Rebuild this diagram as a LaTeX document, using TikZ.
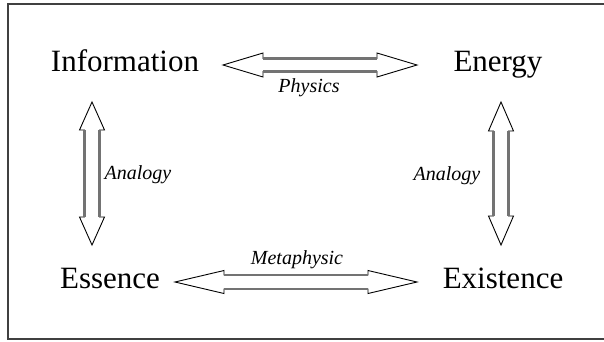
\documentclass[tikz,border=0pt]{standalone}
\usepackage{fontspec}
\setmainfont{Liberation Serif}
\usetikzlibrary{calc}

\tikzset{
  term/.style={inner sep=0pt, anchor=base, font=\fontsize{31}{36}\selectfont},
  relation/.style={inner sep=0pt, font=\fontsize{20}{24}\selectfont\itshape},
  headline/.style={draw=black, line width=0.9pt, line join=miter},
  shaftline/.style={draw=black!55, line width=2.4pt},
  frameline/.style={draw=black!75, line width=1.6pt},
}

% Horizontal hollow double arrow: #1 left tip, #2 right tip,
% #3 head length, #4 head half width, #5 shaft half width
\newcommand\twinarrowH[5]{%
  \draw[headline] (#1) -- ($(#1)+(#3,-#4)$) -- ($(#1)+(#3,-#5)$)
    -- ($(#2)+(-#3,-#5)$) -- ($(#2)+(-#3,-#4)$) -- (#2)
    -- ($(#2)+(-#3,#4)$) -- ($(#2)+(-#3,#5)$)
    -- ($(#1)+(#3,#5)$) -- ($(#1)+(#3,#4)$) -- cycle;
  \draw[shaftline] ($(#1)+(#3,-#5)$) -- ($(#2)+(-#3,-#5)$)
    ($(#1)+(#3,#5)$) -- ($(#2)+(-#3,#5)$);
}
% Vertical hollow double arrow: #1 top tip, #2 bottom tip
\newcommand\twinarrowV[5]{%
  \draw[headline] (#1) -- ($(#1)+(-#4,#3)$) -- ($(#1)+(-#5,#3)$)
    -- ($(#2)+(-#5,-#3)$) -- ($(#2)+(-#4,-#3)$) -- (#2)
    -- ($(#2)+(#4,-#3)$) -- ($(#2)+(#5,-#3)$)
    -- ($(#1)+(#5,#3)$) -- ($(#1)+(#4,#3)$) -- cycle;
  \draw[shaftline] ($(#1)+(-#5,#3)$) -- ($(#2)+(-#5,-#3)$)
    ($(#1)+(#5,#3)$) -- ($(#2)+(#5,-#3)$);
}

\begin{document}
\begin{tikzpicture}[x=1pt, y=-1pt]
  \useasboundingbox (0,0) rectangle (604,341);
  \fill[white] (0,0) rectangle (604,341);

  % surrounding frame (its right side lies beyond the page edge)
  \draw[frameline] (612,4) -- (8,4) -- (8,339) -- (612,339);

  % the four terms
  \node[term] (info)      at (125,71)  {Information};
  \node[term] (energy)    at (498,71)  {Energy};
  \node[term] (essence)   at (110,288) {Essence};
  \node[term] (existence) at (503,288) {Existence};

  % arrow ends
  \coordinate (topL) at (223,65);
  \coordinate (topR) at (417,65);
  \coordinate (botL) at (175,282);
  \coordinate (botR) at (417,282);
  \coordinate (lftT) at (92,102);
  \coordinate (lftB) at (92,245);
  \coordinate (rgtT) at (501,102);
  \coordinate (rgtB) at (501,245);

  \twinarrowH{topL}{topR}{40}{12}{6.5}
  \twinarrowH{botL}{botR}{49}{11.5}{7}
  \twinarrowV{lftT}{lftB}{28}{12.5}{7.5}
  \twinarrowV{rgtT}{rgtB}{29}{12.5}{7.5}

  % relation labels
  \node[relation] (physics) at (309,88)  {Physics};
  \node[relation] (meta)    at (297,260) {Metaphysic};
  \node[relation] (anaL)    at (138,175) {Analogy};
  \node[relation] (anaR)    at (447,176) {Analogy};
\end{tikzpicture}
\end{document}
